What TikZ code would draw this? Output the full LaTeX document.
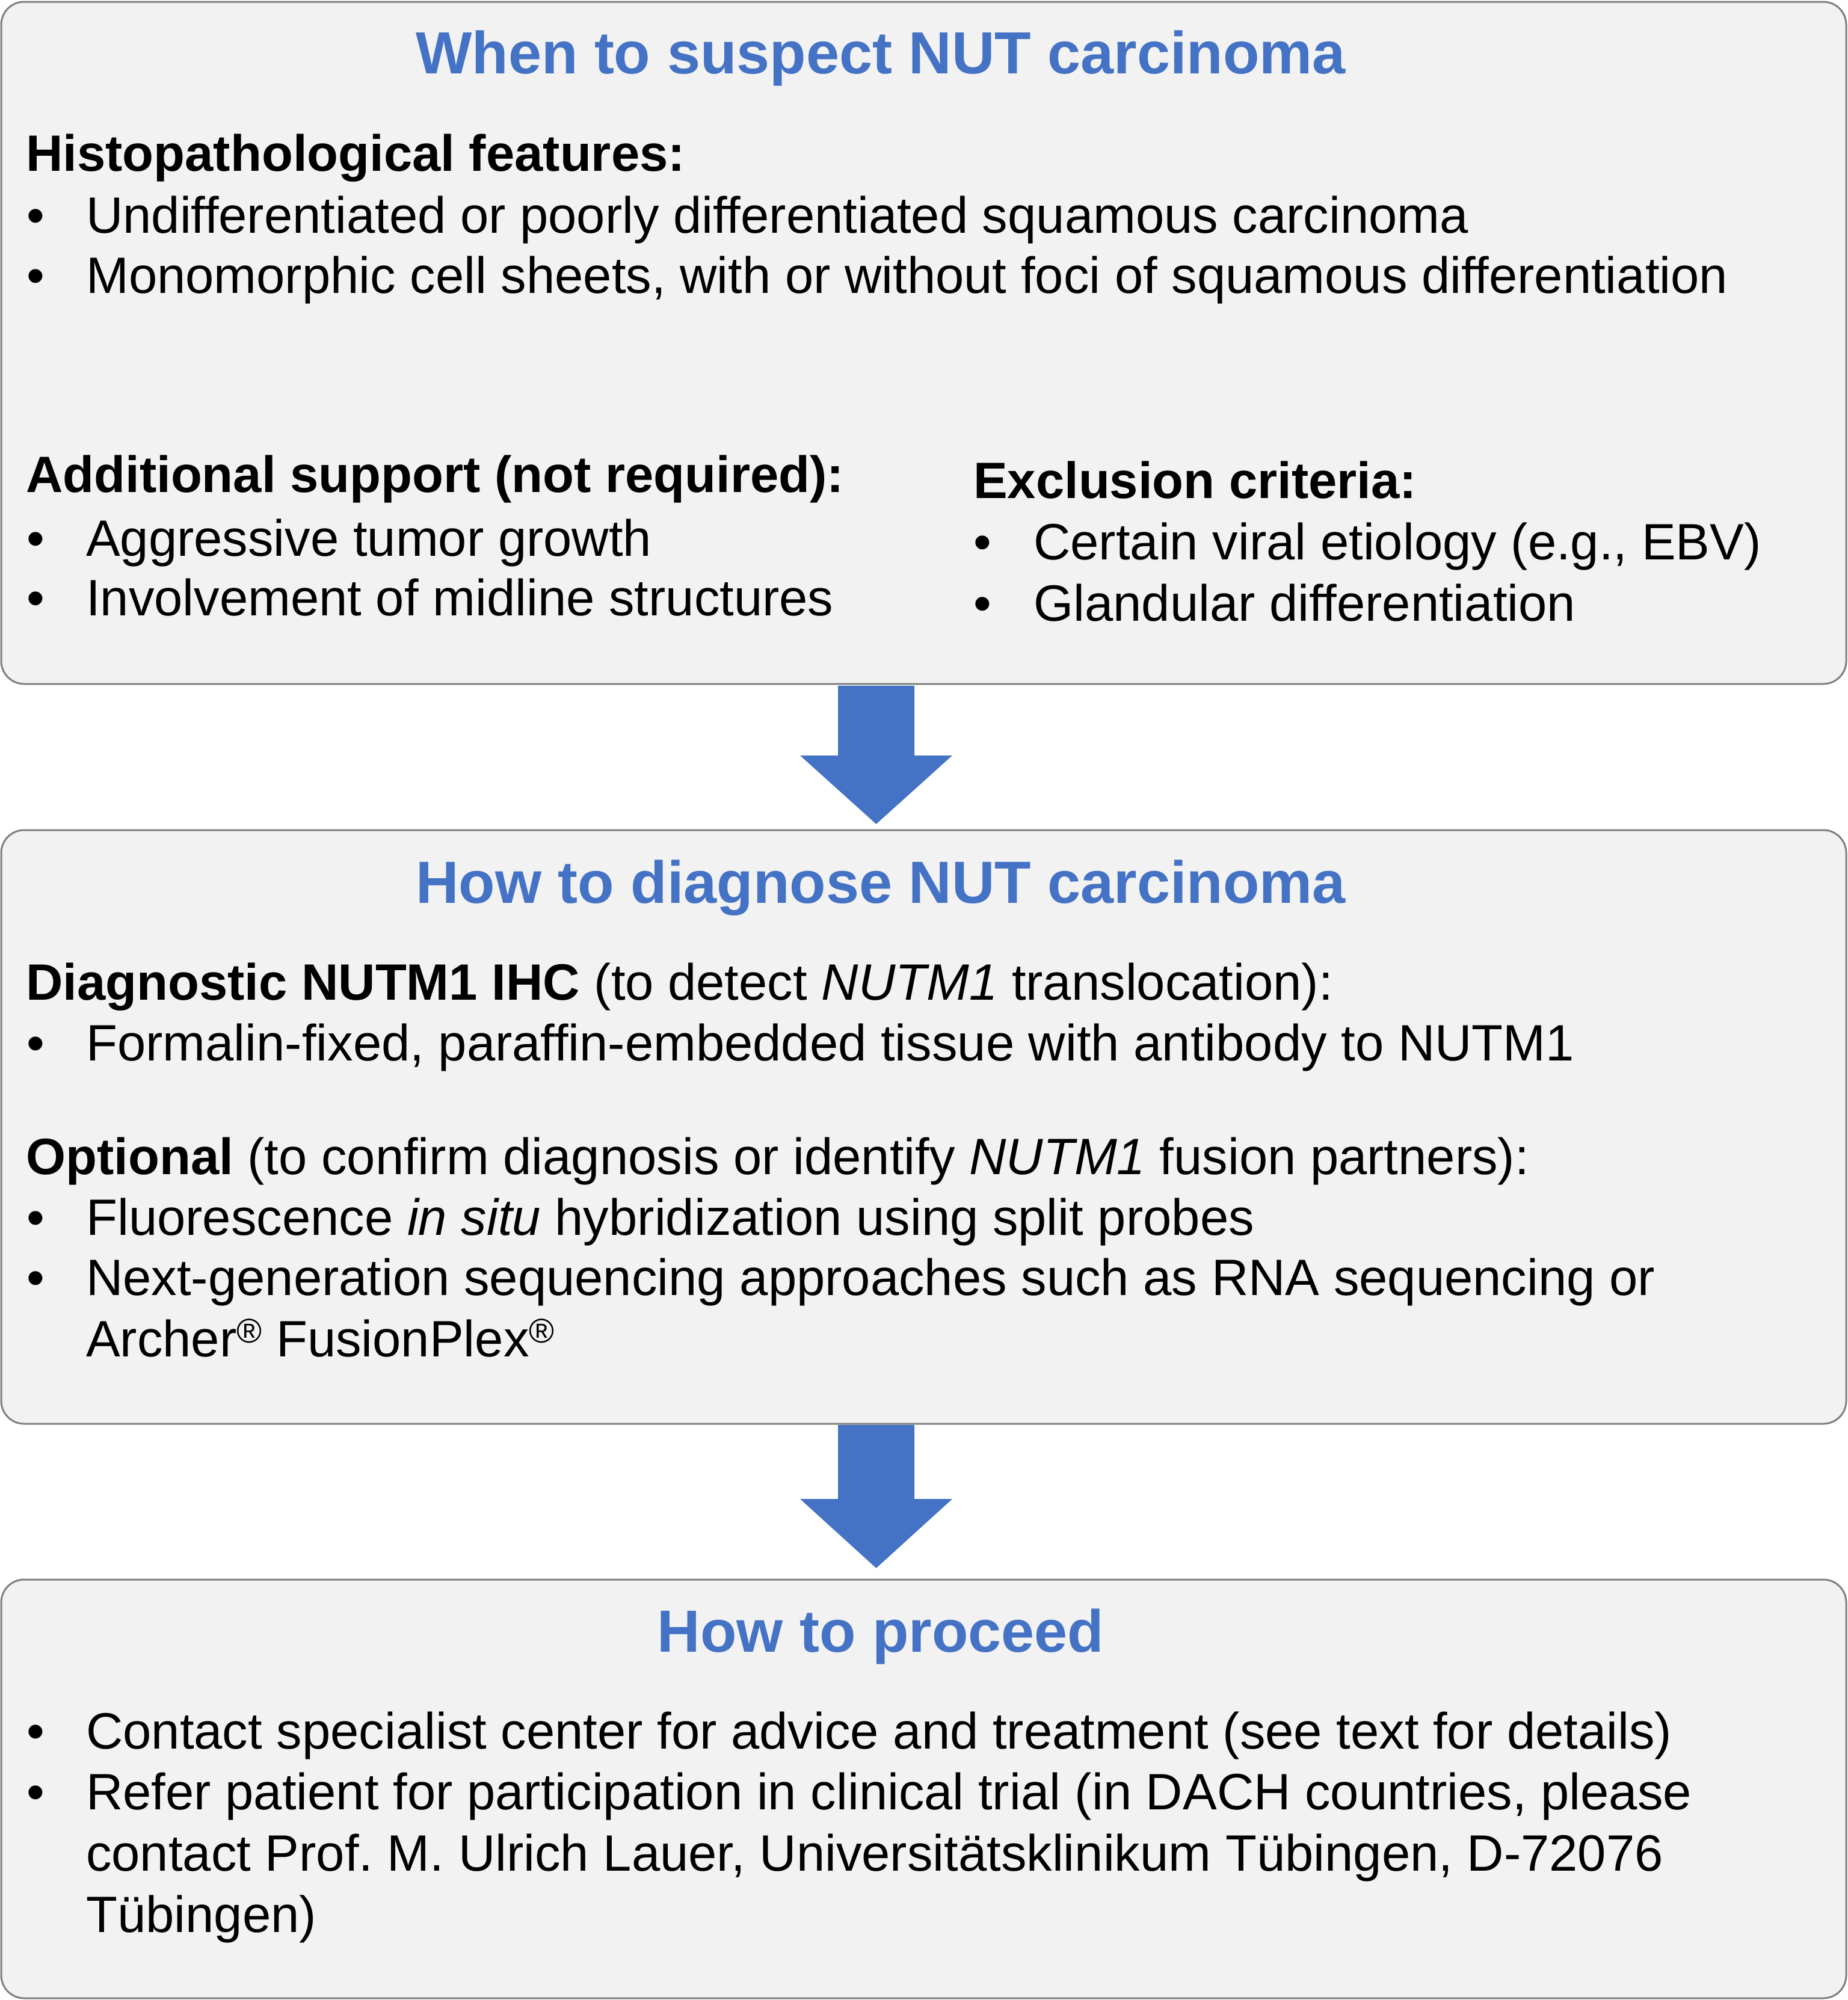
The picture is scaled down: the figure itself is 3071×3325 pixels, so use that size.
\documentclass[tikz,border=0pt]{standalone}
\usepackage{fontspec}
\setmainfont{Liberation Sans}
\frenchspacing
\definecolor{boxfill}{HTML}{F2F2F2}
\definecolor{boxline}{HTML}{7F7F7F}
\definecolor{titleblue}{HTML}{4472C4}
\newcommand{\regmark}{\raisebox{23pt}{\fontsize{57}{60}\selectfont ®}}
\begin{document}
\begin{tikzpicture}[x=1pt,y=-1pt,
  panel/.style={draw=boxline, fill=boxfill, line width=3pt, rounded corners=38pt, inner sep=0pt, outer sep=0pt},
  ttl/.style={anchor=base, inner sep=0pt, text=titleblue, font=\fontsize{99}{118}\selectfont\bfseries},
  txt/.style={anchor=base west, inner sep=0pt, font=\fontsize{85}{101}\selectfont},
  hd/.style={anchor=base west, inner sep=0pt, font=\fontsize{85}{101}\selectfont\bfseries},
  bul/.style={anchor=base, inner sep=0pt, font=\fontsize{85}{101}\selectfont},
  blockarrow/.style={fill=titleblue, draw=none}]
\useasboundingbox (0,0) rectangle (3071,3325);
% panels
\node[panel, minimum width=3067pt, minimum height=1134pt] (box1) at (1535.5,570) {};
\node[panel, minimum width=3067pt, minimum height=987pt] (box2) at (1535.5,1873.5) {};
\node[panel, minimum width=3067pt, minimum height=696pt] (box3) at (1535.5,2974) {};
% arrows
\coordinate (a1) at (1456.5,1140);
\coordinate (a2) at (1456.5,2369);
\fill[blockarrow] ([xshift=-63.5pt]a1) -- ([xshift=63.5pt]a1) -- ([xshift=63.5pt,yshift=-116pt]a1) -- ([xshift=126.5pt,yshift=-116pt]a1) -- ([yshift=-230pt]a1) -- ([xshift=-126.5pt,yshift=-116pt]a1) -- ([xshift=-63.5pt,yshift=-116pt]a1) -- cycle;
\fill[blockarrow] ([xshift=-63.5pt]a2) -- ([xshift=63.5pt]a2) -- ([xshift=63.5pt,yshift=-123pt]a2) -- ([xshift=126.5pt,yshift=-123pt]a2) -- ([yshift=-238pt]a2) -- ([xshift=-126.5pt,yshift=-123pt]a2) -- ([xshift=-63.5pt,yshift=-123pt]a2) -- cycle;
% box 1
\node[ttl] (t1) at (1464,122) {When to suspect NUT carcinoma};
\node[hd] (h1) at (43,284) {Histopathological features:};
\node[bul] (b11) at (59,387) {•};
\node[txt] (l11) at (143,387) {Undifferentiated or poorly differentiated squamous carcinoma};
\node[bul] (b12) at (59,487) {•};
\node[txt] (l12) at (143,487) {Monomorphic cell sheets, with or without foci of squamous differentiation};
\node[hd] (h2) at (43,818) {Additional support (not required):};
\node[bul] (b13) at (59,924) {•};
\node[txt] (l13) at (143,924) {Aggressive tumor growth};
\node[bul] (b14) at (59,1023) {•};
\node[txt] (l14) at (143,1023) {Involvement of midline structures};
\node[hd] (h3) at (1618,828) {Exclusion criteria:};
\node[bul] (b15) at (1633,930) {•};
\node[txt] (l15) at (1718,930) {Certain viral etiology (e.g., EBV)};
\node[bul] (b16) at (1633,1032) {•};
\node[txt] (l16) at (1718,1032) {Glandular differentiation};
% box 2
\node[ttl] (t2) at (1464,1501) {How to diagnose NUT carcinoma};
\node[txt] (h4) at (43,1662) {\textbf{Diagnostic NUTM1 IHC} (to detect \textit{NUTM1} translocation):};
\node[bul] (b21) at (59,1763) {•};
\node[txt] (l21) at (143,1763) {Formalin-fixed, paraffin-embedded tissue with antibody to NUTM1};
\node[txt] (h5) at (43,1952) {\textbf{Optional} (to confirm diagnosis or identify \textit{NUTM1} fusion partners):};
\node[bul] (b22) at (59,2053) {•};
\node[txt] (l22) at (143,2053) {Fluorescence \textit{in situ} hybridization using split probes};
\node[bul] (b23) at (59,2153) {•};
\node[txt] (l23) at (143,2153) {Next-generation sequencing approaches such as RNA sequencing or};
\node[txt] (l24) at (143,2255) {Archer\regmark{} FusionPlex\regmark};
% box 3
\node[ttl] (t3) at (1464,2746) {How to proceed};
\node[bul] (b31) at (59,2907) {•};
\node[txt] (l31) at (143,2907) {Contact specialist center for advice and treatment (see text for details)};
\node[bul] (b32) at (59,3008) {•};
\node[txt] (l32) at (143,3008) {Refer patient for participation in clinical trial (in DACH countries, please};
\node[txt] (l33) at (143,3110) {contact Prof. M. Ulrich Lauer, Universitätsklinikum Tübingen, D-72076};
\node[txt] (l34) at (143,3212) {Tübingen)};
\end{tikzpicture}
\end{document}
